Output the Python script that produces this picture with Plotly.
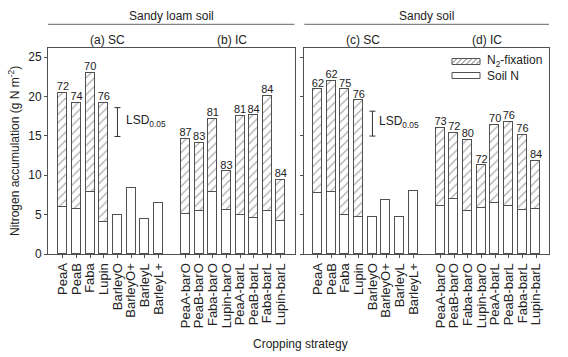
import plotly.graph_objects as go

# ---------------- data ----------------
sc_categories = ["PeaA", "PeaB", "Faba", "Lupin", "BarleyO", "BarleyO+", "BarleyL", "BarleyL+"]
ic_categories = ["PeaA-barO", "PeaB-barO", "Faba-barO", "Lupin-barO",
                 "PeaA-barL", "PeaB-barL", "Faba-barL", "Lupin-barL"]

# Sandy loam soil
loam_sc_soil = [6.0, 5.65, 7.9, 4.05, 5.0, 8.4, 4.45, 6.5]
loam_sc_fix = [14.45, 13.55, 15.05, 15.15, None, None, None, None]
loam_sc_pct = ["72", "74", "70", "76", "", "", "", ""]
loam_ic_soil = [5.05, 5.45, 7.9, 5.6, 4.98, 4.6, 5.45, 4.2]
loam_ic_fix = [9.6, 8.7, 9.3, 4.9, 12.52, 13.0, 14.6, 5.25]
loam_ic_pct = ["87", "83", "81", "83", "81", "84", "84", "84"]

# Sandy soil
sandy_sc_soil = [7.7, 7.9, 5.0, 4.7, 4.75, 6.8, 4.75, 7.95]
sandy_sc_fix = [13.2, 14.05, 15.9, 14.8, None, None, None, None]
sandy_sc_pct = ["62", "62", "75", "76", "", "", "", ""]
sandy_ic_soil = [6.1, 7.0, 5.4, 5.9, 6.5, 6.1, 5.55, 5.75]
sandy_ic_fix = [9.95, 8.4, 9.1, 5.35, 9.9, 10.7, 9.6, 6.1]
sandy_ic_pct = ["73", "72", "80", "72", "70", "76", "76", "84"]

# LSD(0.05) bars: centre and half length, per soil
lsd_center = [16.75, 16.55]
lsd_half = [1.83, 1.58]

y_ticks = [0, 5, 10, 15, 20, 25]

# ---------------- layout helpers ----------------
W, H = 568, 357
ML, MR, MT, MB = 48, 19, 48, 103
PW, PH = W - ML - MR, H - MT - MB
FONT = "Liberation Sans, Arial, sans-serif"
TXT = "#222"
LINE = "#505050"


def px(xp):
    return (xp - ML) / PW


def py(yp):
    return (H - MB - yp) / PH


positions = list(range(8)) + list(range(9, 17))
categories = sc_categories + ic_categories

fig = go.Figure()

panels = [
    ("x", "y", loam_sc_soil + loam_ic_soil, loam_sc_fix + loam_ic_fix, loam_sc_pct + loam_ic_pct, 0),
    ("x2", "y2", sandy_sc_soil + sandy_ic_soil, sandy_sc_fix + sandy_ic_fix, sandy_sc_pct + sandy_ic_pct, 1),
]

for xa, ya, soil, fix, pct, k in panels:
    fig.add_trace(go.Bar(
        x=positions, y=soil, xaxis=xa, yaxis=ya, width=0.66,
        marker=dict(color="white", line=dict(color=LINE, width=1)),
        showlegend=False, hoverinfo="skip"))
    fig.add_trace(go.Bar(
        x=positions, y=fix, xaxis=xa, yaxis=ya, width=0.66,
        marker=dict(color="white", line=dict(color=LINE, width=1),
                    pattern=dict(shape="/", fgcolor="#555", bgcolor="white",
                                 size=6, solidity=0.2)),
        showlegend=False, hoverinfo="skip"))
    totals = [s + (f if f is not None else 0) for s, f in zip(soil, fix)]
    px_l = [p for p, t in zip(positions, pct) if t]
    py_l = [v for v, t in zip(totals, pct) if t]
    tx_l = [t for t in pct if t]
    fig.add_trace(go.Scatter(
        x=px_l, y=py_l, xaxis=xa, yaxis=ya, mode="text", text=tx_l,
        textposition="top center", textfont=dict(size=11, color=TXT, family=FONT),
        showlegend=False, hoverinfo="skip"))
    # LSD bar
    fig.add_trace(go.Scatter(
        x=[4], y=[lsd_center[k]], xaxis=xa, yaxis=ya, mode="markers",
        marker=dict(size=1, color="white", opacity=0),
        error_y=dict(type="data", array=[lsd_half[k]], color="#333", thickness=1, width=3),
        showlegend=False, hoverinfo="skip"))

fig.update_layout(
    barmode="stack", bargap=0,
    width=W, height=H, autosize=False,
    margin=dict(l=ML, r=MR, t=MT, b=MB),
    plot_bgcolor="white", paper_bgcolor="white",
    font=dict(family=FONT, size=12, color=TXT),
)

x1_dom = [0, px(294.5)]
x2_dom = [px(304.3), 1]

xcommon = dict(tickmode="array", tickvals=positions, ticktext=categories, tickangle=-90,
               ticks="outside", ticklen=3, tickcolor=LINE, showline=True, linecolor=LINE,
               linewidth=1, mirror=True, showgrid=False, zeroline=False,
               tickfont=dict(size=13, color=TXT, family=FONT))
fig.update_layout(
    xaxis=dict(domain=x1_dom, range=[-1.1, 17.0], anchor="y", **xcommon),
    xaxis2=dict(domain=x2_dom, range=[-1.0, 16.95], anchor="y2", **xcommon),
    yaxis=dict(domain=[0, 1], range=[0, 26.15], anchor="x", tickvals=y_ticks,
               ticks="outside", ticklen=3, tickcolor=LINE, showline=True, linecolor=LINE,
               linewidth=1, mirror=True, showgrid=False, zeroline=False,
               tickfont=dict(size=12, color=TXT, family=FONT)),
    yaxis2=dict(domain=[0, 1], range=[0, 26.15], anchor="x2", tickvals=y_ticks,
                showticklabels=False, ticks="outside", ticklen=3, tickcolor=LINE,
                showline=True, linecolor=LINE, linewidth=1, mirror=True,
                showgrid=False, zeroline=False),
)

C = dict(xanchor="center", yanchor="middle", showarrow=False)
ann = []
# soil headers
ann.append(dict(text="Sandy loam soil", x=(x1_dom[0] + x1_dom[1]) / 2, y=py(16.5),
                xref="paper", yref="paper", font=dict(size=12), **C))
ann.append(dict(text="Sandy soil", x=(x2_dom[0] + x2_dom[1]) / 2, y=py(16.5),
                xref="paper", yref="paper", font=dict(size=12), **C))
# panel headers
for xa, lab_sc, lab_ic in [("x", "(a) SC", "(b) IC"), ("x2", "(c) SC", "(d) IC")]:
    ann.append(dict(text=lab_sc, x=3.3, y=py(40), xref=xa, yref="paper",
                    font=dict(size=12), **C))
    ann.append(dict(text=lab_ic, x=12.4, y=py(40), xref=xa, yref="paper",
                    font=dict(size=12), **C))
# LSD labels
ann.append(dict(text="LSD<sub>0.05</sub>", x=4.45, y=16.9, xref="x", yref="y",
                xanchor="left", yanchor="middle", showarrow=False, font=dict(size=12)))
ann.append(dict(text="LSD<sub>0.05</sub>", x=4.35, y=16.7, xref="x2", yref="y2",
                xanchor="left", yanchor="middle", showarrow=False, font=dict(size=12)))
# axis titles
ann.append(dict(text="Cropping strategy", x=px(300), y=py(344), xref="paper", yref="paper",
                font=dict(size=12), **C))
ann.append(dict(text="Nitrogen accumulation (g N m<sup>-2</sup>)", x=px(14), y=0.5,
                xref="paper", yref="paper", textangle=-90, font=dict(size=12), **C))
# legend text
ann.append(dict(text="N<sub>2</sub>-fixation", x=px(485), y=py(61), xref="paper", yref="paper",
                xanchor="left", yanchor="middle", showarrow=False, font=dict(size=12)))
ann.append(dict(text="Soil N", x=px(485), y=py(75.5), xref="paper", yref="paper",
                xanchor="left", yanchor="middle", showarrow=False, font=dict(size=12)))

shapes = []
# header lines
shapes.append(dict(type="line", xref="paper", yref="paper", x0=x1_dom[0], x1=x1_dom[1],
                   y0=py(24.3), y1=py(24.3), line=dict(color="#666", width=1)))
shapes.append(dict(type="line", xref="paper", yref="paper", x0=x2_dom[0], x1=x2_dom[1],
                   y0=py(24.3), y1=py(24.3), line=dict(color="#666", width=1)))
# legend swatches
sx0, sx1 = 452, 480
for (y0, y1) in [(58.5, 64.5), (72.5, 78.5)]:
    shapes.append(dict(type="rect", xref="paper", yref="paper", x0=px(sx0), x1=px(sx1),
                       y0=py(y1), y1=py(y0), line=dict(color=LINE, width=1),
                       fillcolor="white"))
# hatch lines in N2 swatch
yb, yt = 64.5, 58.5
hgt = yb - yt
path = ""
xs = sx0 - hgt
while xs < sx1:
    xa0, ya0 = xs, yb
    xa1, ya1 = xs + hgt, yt
    if xa0 < sx0:
        ya0 = yb - (sx0 - xa0)
        xa0 = sx0
    if xa1 > sx1:
        ya1 = yt + (xa1 - sx1)
        xa1 = sx1
    if xa1 > xa0:
        path += f"M{px(xa0)},{py(ya0)} L{px(xa1)},{py(ya1)} "
    xs += 5
shapes.append(dict(type="path", xref="paper", yref="paper", path=path,
                   line=dict(color="#666", width=1)))

fig.update_layout(annotations=ann, shapes=shapes)

fig.write_html("out.html", config={"displayModeBar": False},
               post_script="document.body.style.margin='0';")
